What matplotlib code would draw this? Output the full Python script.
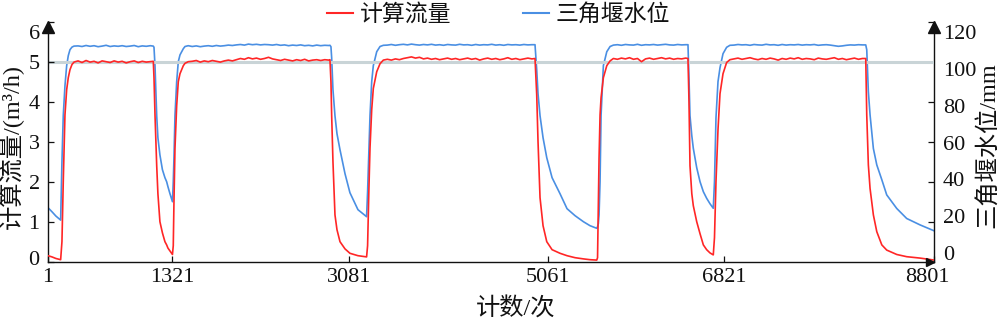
import matplotlib
matplotlib.use("Agg")
import matplotlib.pyplot as plt
import matplotlib.transforms as mtransforms
from matplotlib.lines import Line2D

plt.rcParams["font.family"] = ["Liberation Serif", "Noto Sans CJK SC"]

# Sample counter (x), calculated flow in m3/h and triangular weir water level in mm
count = [
    83, 122, 162, 209, 222, 235, 252, 269, 285, 302, 322, 342,
    382, 422, 462, 502, 542, 582, 622, 662, 702, 742, 782, 822, 862, 902, 942, 982, 1022, 1062, 1102, 1132,
    1139, 1149, 1166, 1178, 1198, 1223, 1248, 1265, 1278, 1298, 1323, 1331, 1338, 1348, 1365, 1381, 1398, 1431, 1448, 1480,
    1520, 1560, 1600, 1640, 1680, 1720, 1760, 1800, 1840, 1880, 1920, 1960, 2000, 2040, 2080, 2120, 2160, 2200,
    2240, 2280, 2320, 2360, 2400, 2440, 2480, 2520, 2560, 2600, 2640, 2680, 2720, 2760, 2800, 2840, 2880, 2892,
    2902, 2909, 2922, 2942, 2962, 2992, 3042, 3091, 3171, 3257, 3267, 3280, 3291, 3308, 3324, 3358, 3391, 3424,
    3464, 3504, 3544, 3584, 3624, 3664, 3704, 3744, 3784, 3824, 3864, 3904, 3944, 3984, 4024, 4064, 4104, 4144, 4184,
    4224, 4264, 4304, 4344, 4384, 4424, 4464, 4504, 4544, 4584, 4624, 4664, 4704, 4744, 4784, 4824, 4864, 4904, 4935,
    4952, 4965, 4985, 5015, 5052, 5105, 5184, 5254, 5334, 5417, 5483, 5550, 5558, 5566, 5573, 5583, 5593, 5616, 5650, 5683, 5716,
    5756, 5796, 5836, 5876, 5916, 5956, 5996, 6036, 6076, 6116, 6156, 6196, 6236, 6276, 6316, 6356, 6396, 6436, 6459,
    6469, 6479, 6497, 6512, 6546, 6579, 6612, 6645, 6678, 6711, 6723, 6738, 6758, 6778, 6808, 6844, 6877,
    6917, 6957, 6997, 7037, 7077, 7117, 7157, 7197, 7237, 7277, 7317, 7357, 7397, 7437, 7477, 7517, 7557,
    7597, 7637, 7677, 7717, 7757, 7797, 7837, 7877, 7917, 7957, 7997, 8037, 8077, 8117, 8157, 8197, 8230,
    8240, 8256, 8273, 8306, 8340, 8390, 8439, 8539, 8638, 8771, 8913,
]

flow = [
    0.15, 0.12, 0.08, 0.05, 0.5, 2.0, 3.67, 4.3, 4.6, 4.8, 4.93, 4.99,
    5.02, 4.98, 5.03, 4.99, 5.01, 4.97, 5.02, 5.00, 4.98, 5.02, 4.99, 5.01, 4.97, 5.00, 5.02, 4.98, 5.01, 4.99, 5.00, 5.01,
    4.6, 3.67, 2.4, 1.7, 1.0, 0.72, 0.5, 0.42, 0.34, 0.27, 0.18, 0.4, 1.5, 2.83, 3.9, 4.5, 4.7, 4.9, 4.96, 5.0,
    5.01, 5.03, 4.99, 5.02, 5.00, 5.03, 5.01, 4.99, 5.02, 5.04, 5.02, 5.05, 5.08, 5.06, 5.10, 5.07, 5.09, 5.06,
    5.08, 5.11, 5.07, 5.05, 5.03, 5.06, 5.04, 5.02, 5.05, 5.03, 5.06, 5.02, 5.04, 5.05, 5.03, 5.05, 5.04, 5.05,
    4.5, 3.67, 2.5, 1.17, 0.8, 0.5, 0.32, 0.21, 0.15, 0.12, 0.4, 1.8, 2.84, 3.8, 4.33, 4.75, 4.95, 5.04,
    5.06, 5.04, 5.07, 5.05, 5.08, 5.10, 5.12, 5.09, 5.11, 5.07, 5.09, 5.06, 5.08, 5.05, 5.07, 5.09, 5.06, 5.08, 5.05,
    5.07, 5.09, 5.06, 5.08, 5.04, 5.07, 5.09, 5.06, 5.08, 5.05, 5.07, 5.10, 5.06, 5.08, 5.05, 5.07, 5.09, 5.07, 5.08,
    4.17, 3.0, 1.6, 0.9, 0.5, 0.3, 0.21, 0.15, 0.1, 0.07, 0.05, 0.04, 0.1, 1.5, 2.6, 3.67, 4.1, 4.6, 4.9, 5.02, 5.08,
    5.06, 5.09, 5.07, 5.10, 5.06, 5.08, 5.00, 5.07, 5.09, 5.06, 5.08, 5.10, 5.07, 5.09, 5.06, 5.08, 5.07, 5.09, 5.08,
    4.0, 2.4, 1.7, 1.4, 1.0, 0.7, 0.42, 0.3, 0.22, 0.17, 0.6, 2.0, 3.3, 4.2, 4.7, 4.98, 5.05,
    5.07, 5.09, 5.06, 5.08, 5.10, 5.07, 5.05, 5.08, 5.06, 5.09, 5.07, 5.04, 5.08, 5.06, 5.09, 5.07, 5.10,
    5.06, 5.08, 5.07, 5.05, 5.09, 5.07, 5.06, 5.08, 5.10, 5.06, 5.08, 5.05, 5.07, 5.09, 5.06, 5.08, 5.08,
    3.67, 2.42, 1.83, 1.17, 0.75, 0.42, 0.29, 0.18, 0.125, 0.09, 0.04,
]

level = [
    27.0, 25.0, 22.8, 20.8, 50, 73, 88, 98, 103, 106, 107.3, 107.8,
    107.9, 107.6, 108.1, 107.7, 108.0, 107.5, 107.8, 108.2, 107.6, 107.9, 107.7, 108.0, 107.6, 107.8, 108.1, 107.5, 107.9, 107.7, 108.0, 107.8,
    107.2, 98, 73, 62, 53.4, 46, 42, 40, 37.5, 34, 30, 40, 52, 73, 90, 100, 103.4, 106.5, 107.6, 108.0,
    107.6, 107.9, 107.5, 107.8, 108.0, 107.7, 108.1, 107.8, 108.0, 108.3, 108.1, 108.4, 108.6, 108.3, 108.8, 108.5, 108.7, 108.4,
    108.6, 108.5, 108.3, 108.6, 108.2, 108.4, 108.0, 108.3, 108.1, 108.4, 108.0, 108.2, 107.9, 108.3, 108.0, 108.2, 108.1, 108.2,
    107.5, 102, 86, 73, 64, 56, 44, 34.5, 26, 22.5, 35, 56, 73, 90, 98, 105, 107.6, 108.2,
    108.3, 108.6, 108.2, 108.5, 108.7, 108.4, 108.8, 108.5, 108.3, 108.6, 108.4, 108.7, 108.3, 108.5, 108.2, 108.6, 108.4, 108.3, 108.7,
    108.4, 108.5, 108.2, 108.6, 108.3, 108.5, 108.4, 108.7, 108.3, 108.5, 108.2, 108.6, 108.4, 108.5, 108.3, 108.6, 108.4, 108.5, 108.5,
    96, 84, 73, 62, 52, 42, 34, 26.5, 23, 20, 18, 16.7, 17.5, 19, 23.4, 40, 73, 98, 105, 107.6, 108.3,
    108.5, 108.2, 108.6, 108.4, 108.3, 108.7, 108.2, 108.5, 108.4, 108.6, 108.3, 108.5, 108.7, 108.4, 108.3, 108.6, 108.4, 108.5, 108.5,
    92, 73, 63, 56.7, 47, 40, 35, 31.7, 29, 26.7, 40, 72, 90, 97, 104, 107.2, 108.2,
    108.3, 108.6, 108.4, 108.5, 108.2, 108.6, 108.4, 108.3, 108.7, 108.4, 108.5, 108.2, 108.6, 108.3, 108.5, 108.4, 108.6,
    108.3, 108.5, 108.4, 108.6, 108.2, 108.4, 108.5, 108.3, 108.0, 107.7, 107.9, 108.2, 108.4, 108.3, 108.5, 108.4, 108.4,
    106, 85, 73.4, 56.6, 48.4, 41, 33.4, 26.6, 21.6, 18.4, 15.4,
]

flow_ticks = [0, 1, 2, 3, 4, 5, 6]
level_ticks = [0, 20, 40, 60, 80, 100, 120]
count_ticks_inner = [1321, 3081, 5061, 6821]
count_tick_labels = ["1", "1321", "3081", "5061", "6821", "8801"]
design_flow = 5.0

series_names = ["计算流量", "三角堰水位"]
flow_label = "计算流量/(m³/h)"
level_label = "三角堰水位/mm"
count_label = "计数/次"

RED = "#ff2626"
BLUE = "#4a8fe3"
REF_GREY = "#c9d4d7"
INK = "#111111"

fig = plt.figure(figsize=(10, 3.22), dpi=100)
ax = fig.add_axes([0.048, 0.1873, 0.8863, 0.7453])
ax2 = ax.twinx()
ax.set_zorder(ax2.get_zorder() + 1)
ax.patch.set_visible(False)

ax.axhline(design_flow, color=REF_GREY, lw=2.2, zorder=1)
ax2.plot(count, level, color=BLUE, lw=1.2)
ax.plot(count, flow, color=RED, lw=1.2, zorder=3)

ax.set_xlim(count[0], count[-1])
ax.set_ylim(flow_ticks[0], flow_ticks[-1])
ax2.set_ylim(level_ticks[0], level_ticks[-1])

ax.set_xticks([count[0]] + count_ticks_inner + [count[-1]])
ax.set_xticklabels(count_tick_labels)
ax.set_yticks(flow_ticks)
ax.set_yticklabels([str(v) for v in flow_ticks])
ax2.set_yticks(level_ticks)
ax2.set_yticklabels([str(v) for v in level_ticks])

for a in (ax, ax2):
    a.spines["top"].set_visible(False)
    for s in a.spines.values():
        s.set_linewidth(1.0)
        s.set_color(INK)
ax.spines["right"].set_visible(False)
ax2.spines["left"].set_visible(False)
ax2.spines["bottom"].set_visible(False)

ax.tick_params(axis="x", direction="in", length=4, width=0.9, labelsize=16, pad=4.8, colors=INK)
ax.tick_params(axis="y", direction="in", length=4, width=0.9, labelsize=16, pad=6, colors=INK)
ax2.tick_params(axis="y", direction="in", length=4, width=0.9, labelsize=16, pad=6, colors=INK)


def nudge(label, dx_px, dy_px):
    off = mtransforms.ScaledTranslation(dx_px / fig.dpi, dy_px / fig.dpi, fig.dpi_scale_trans)
    label.set_transform(label.get_transform() + off)


# end labels of the flow axis sit slightly inside the axis span
ylabels = ax.get_yticklabels()
nudge(ylabels[-1], 0, -10)
nudge(ylabels[0], 0, 3.5)
# level labels are spread a little tighter than their ticks
for lab, v in zip(ax2.get_yticklabels(), level_ticks):
    nudge(lab, 0, 8.7 - 0.161 * v)
nudge(ax.get_xticklabels()[-1], -7, 0)

# arrow heads on the axis ends
ax.plot([0], [1], marker="^", ms=8, color=INK, clip_on=False, zorder=6,
        transform=ax.transAxes + mtransforms.ScaledTranslation(0, -4 / 72, fig.dpi_scale_trans))
ax.plot([1], [1], marker="^", ms=8, color=INK, clip_on=False, zorder=6,
        transform=ax.transAxes + mtransforms.ScaledTranslation(0, -4 / 72, fig.dpi_scale_trans))
ax.plot([1], [0], marker=">", ms=6, color=INK, clip_on=False, zorder=6,
        transform=ax.transAxes + mtransforms.ScaledTranslation(-3 / 72, 0, fig.dpi_scale_trans))

fig.text(0.011, 0.545, flow_label, rotation=90, ha="center", va="center", fontsize=17.5, color=INK)
fig.text(0.988, 0.55, level_label, rotation=90, ha="center", va="center", fontsize=17.5, color=INK)
fig.text(0.516, 0.04, count_label, ha="center", va="center", fontsize=17.5, color=INK)

handles = [Line2D([], [], color=RED, lw=1.5), Line2D([], [], color=BLUE, lw=1.5)]
fig.legend(handles, series_names, loc="center", bbox_to_anchor=(0.4985, 0.9534), ncol=2,
           frameon=False, fontsize=16.5, handlelength=1.15, handletextpad=0.3,
           columnspacing=3.1, borderpad=0, borderaxespad=0, labelcolor=INK)

fig.savefig("out.png", dpi=100)
